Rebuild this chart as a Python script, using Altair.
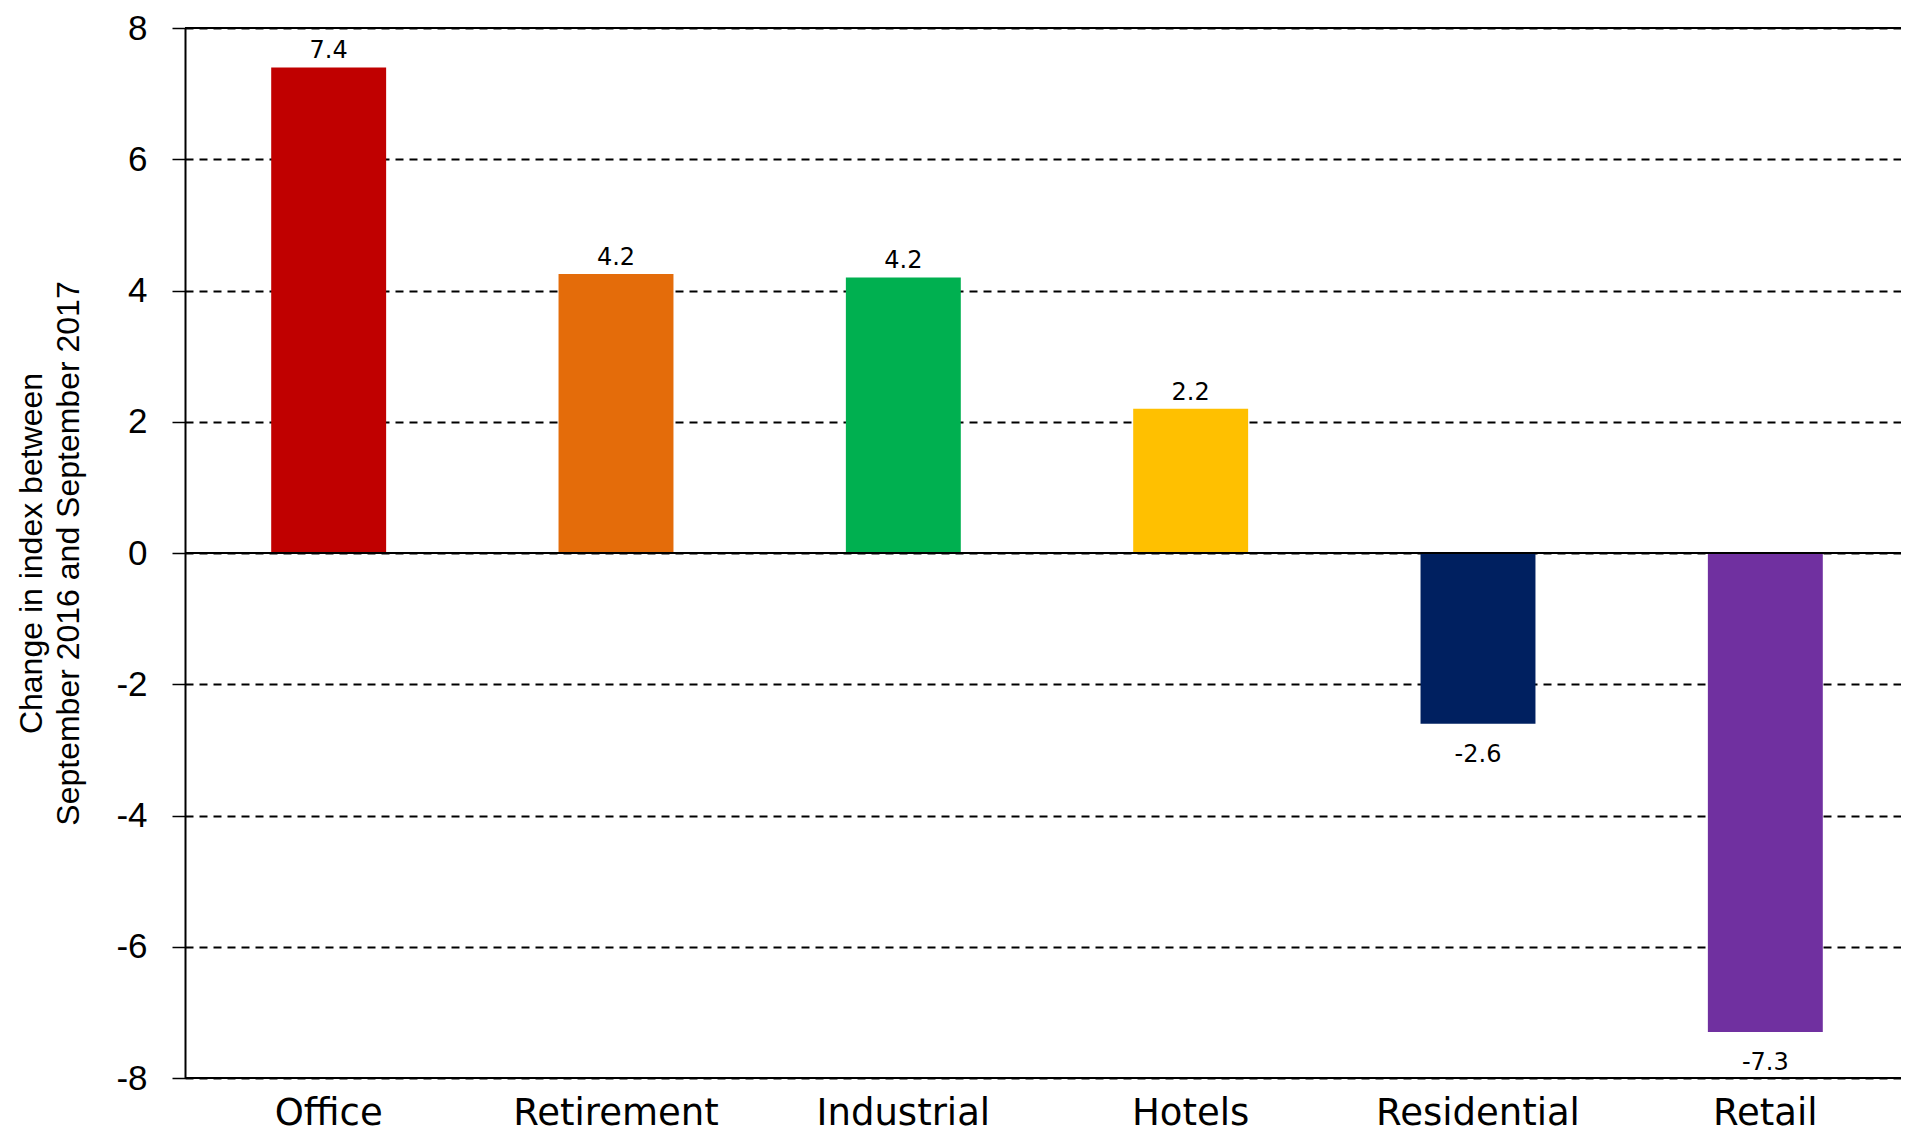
import altair as alt
import pandas as pd

categories = ["Office", "Retirement", "Industrial", "Hotels", "Residential", "Retail"]
values = [7.4, 4.25, 4.2, 2.2, -2.6, -7.3]
labels = ["7.4", "4.2", "4.2", "2.2", "-2.6", "-7.3"]
colors = ["#C00000", "#E46C0A", "#00B050", "#FFC000", "#002060", "#7030A0"]
y_ticks = [-8, -6, -4, -2, 0, 2, 4, 6, 8]
solid_lines = [8, 0, -8]

df = pd.DataFrame({"category": categories, "value": values, "label": labels, "color": colors})
rules_df = pd.DataFrame({"y": solid_lines})

x_scale = alt.Scale(paddingInner=0.6, paddingOuter=0.3, range=[0, 1724])
x_enc = alt.X(
    "category:N",
    sort=categories,
    scale=x_scale,
    axis=alt.Axis(
        title=None, ticks=False, domain=False, labelAngle=0,
        labelFont="DejaVu Sans", labelFontSize=37, labelColor="black",
        labelPadding=46, labelBaseline="alphabetic", labelLimit=500,
    ),
)
y_scale = alt.Scale(domain=[-8, 8], nice=False, zero=False)
y_axis = alt.Axis(
    values=y_ticks,
    labelExpr="'' + datum.value",
    title=["Change in index between", "September 2016 and September 2017"],
    titleFont="Liberation Sans", titleFontSize=32, titleFontWeight="normal",
    titleColor="black", titleLineHeight=37, titleX=-154, titleAngle=-90,
    titleAlign="center", titleBaseline="middle",
    labelFont="Liberation Sans", labelFontSize=35, labelColor="black",
    labelPadding=25, tickSize=13, tickColor="black", tickWidth=1.5,
    domainColor="black", domainWidth=2,
    grid=True, gridColor="black", gridDash=[8, 6], gridWidth=2, gridOpacity=1,
)

bars = alt.Chart(df).mark_bar().encode(
    x=x_enc,
    y=alt.Y("value:Q", scale=y_scale, axis=y_axis),
    color=alt.Color("color:N", scale=None),
)

rules = alt.Chart(rules_df).mark_rule(color="black", strokeWidth=2).encode(
    y=alt.Y("y:Q", scale=y_scale)
)

pos_text = alt.Chart(df).transform_filter("datum.value >= 0").mark_text(
    font="DejaVu Sans", fontSize=24, color="black", baseline="alphabetic", dy=-9
).encode(x=alt.X("category:N", sort=categories, scale=x_scale), y=alt.Y("value:Q", scale=y_scale), text="label:N")

neg_text = alt.Chart(df).transform_filter("datum.value < 0").mark_text(
    font="DejaVu Sans", fontSize=24, color="black", baseline="alphabetic", dy=38
).encode(x=alt.X("category:N", sort=categories, scale=x_scale), y=alt.Y("value:Q", scale=y_scale), text="label:N")

chart = alt.layer(bars, rules, pos_text, neg_text).properties(
    width=1716, height=1050,
    autosize=alt.AutoSizeParams(type="none"),
    padding={"left": 177, "top": 20, "right": 0, "bottom": 54},
).configure_view(stroke=None).configure(background="white")

chart.save("out.html", embed_options={"renderer": "svg", "actions": False})
